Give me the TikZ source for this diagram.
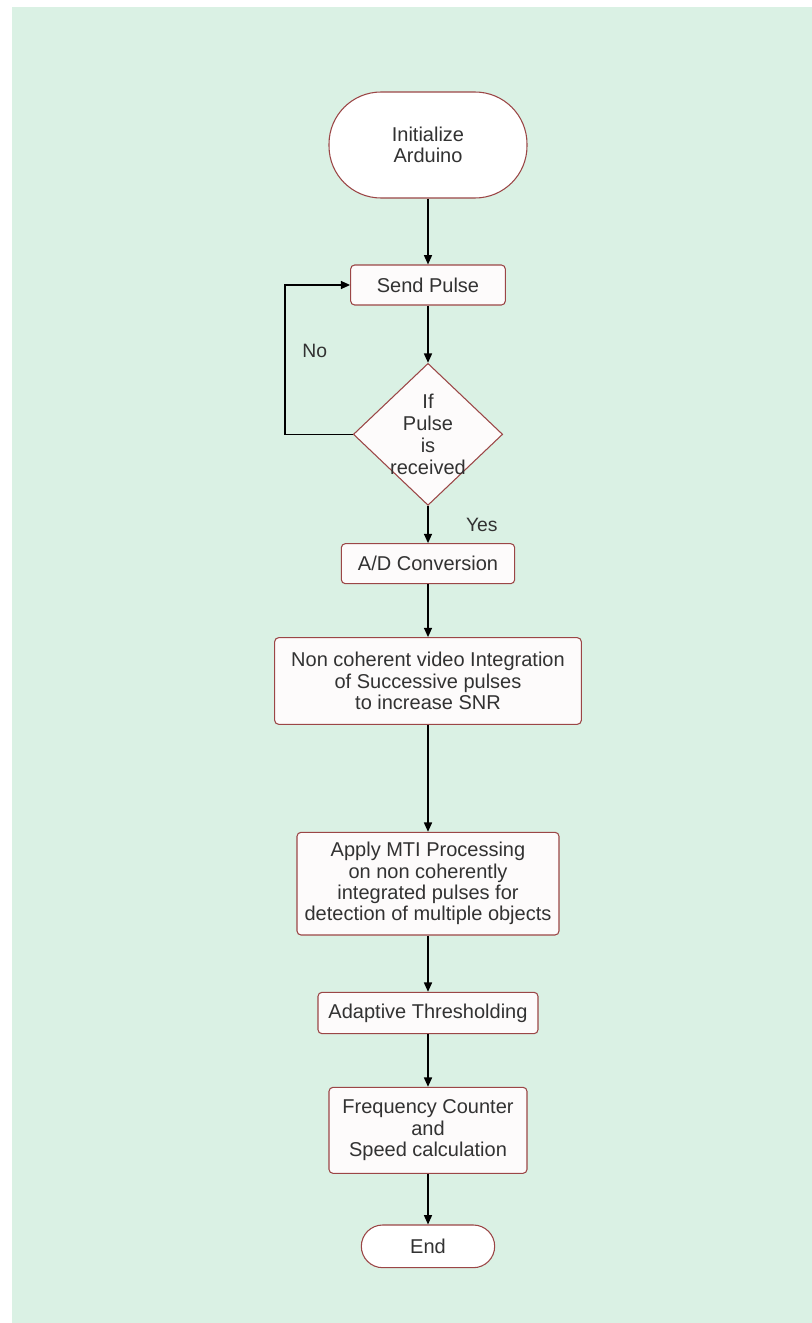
\documentclass[tikz,border=0pt]{standalone}
\usepackage{fontspec}
\setmainfont{Liberation Sans}
\usetikzlibrary{positioning,shapes.geometric,arrows.meta}
\definecolor{panelgreen}{RGB}{218,241,228}
\definecolor{boxline}{RGB}{155,70,70}
\definecolor{boxfill}{RGB}{253,251,251}
\definecolor{txtgray}{RGB}{50,50,50}
\tikzset{
  flowbox/.style={draw=boxline,fill=boxfill,line width=0.8pt,rounded corners=3pt,
    inner sep=0pt,align=center,text=txtgray,font=\fontsize{15}{16}\selectfont},
  terminal/.style={flowbox,fill=white,rounded corners=#1},
  decision/.style={diamond,draw=boxline,fill=boxfill,line width=0.8pt,inner sep=0pt,
    minimum width=112pt,minimum height=106.5pt},
  flowlabel/.style={text=txtgray,font=\fontsize{14.5}{16}\selectfont,inner sep=0pt}
}

\begin{document}
\begin{tikzpicture}[node distance=97pt,on grid,auto,>={Triangle[length=7pt,width=6pt]}]
   \useasboundingbox (0,0) rectangle (609pt,-992.25pt);
   \fill[white] (0,0) rectangle (612pt,-995pt);
   \fill[panelgreen] (9pt,-5pt) rectangle (612pt,-995pt);
   % main column
   \node[terminal=39pt,minimum width=148.5pt,minimum height=79.5pt] (init) at (321pt,-108.75pt) {Initialize\\Arduino};
   \node[flowbox,minimum width=116pt,minimum height=30pt] (send) [below=105pt of init] {Send Pulse};
   \node[decision,label={[align=center,text=txtgray,font=\fontsize{15}{16.3}\selectfont]center:If\\Pulse\\is\\received}] (dec) [below=112pt of send] {};
   \node[flowbox,minimum width=130pt,minimum height=30pt] (adc) [below=of dec] {A/D Conversion};
   \node[flowbox,minimum width=230pt,minimum height=65pt] (nci) [below=88pt of adc] {Non coherent video Integration\\of Successive pulses\\ to increase SNR};
   \node[flowbox,minimum width=196.5pt,minimum height=77pt] (mti) [below=152pt of nci] {Apply MTI Processing\\on non coherently\\integrated pulses for\\detection of multiple objects};
   \node[flowbox,minimum width=165pt,minimum height=31pt] (thr) [below=of mti] {Adaptive Thresholding};
   \node[flowbox,minimum width=148.5pt,minimum height=64.5pt] (freq) [below=88pt of thr] {Frequency Counter\\and\\Speed calculation};
   \node[terminal=16pt,minimum width=100pt,minimum height=32pt] (stop) [below=87pt of freq] {End};
   \path[->,line width=1.1pt]
     (init) edge (send)
     (send) edge (dec)
      (dec) edge node[flowlabel,xshift=28pt] {Yes} (adc)
      (adc) edge (nci)
      (nci) edge (mti)
      (mti) edge (thr)
      (thr) edge (freq)
     (freq) edge (stop);
   % loop back when no pulse
   \draw[->,line width=1.1pt] (dec.west) -- ++(-51pt,0) |- (send.west);
   \node[flowlabel] (no) [above left=57pt and 19pt of dec.west] {No};
\end{tikzpicture}
\end{document}
